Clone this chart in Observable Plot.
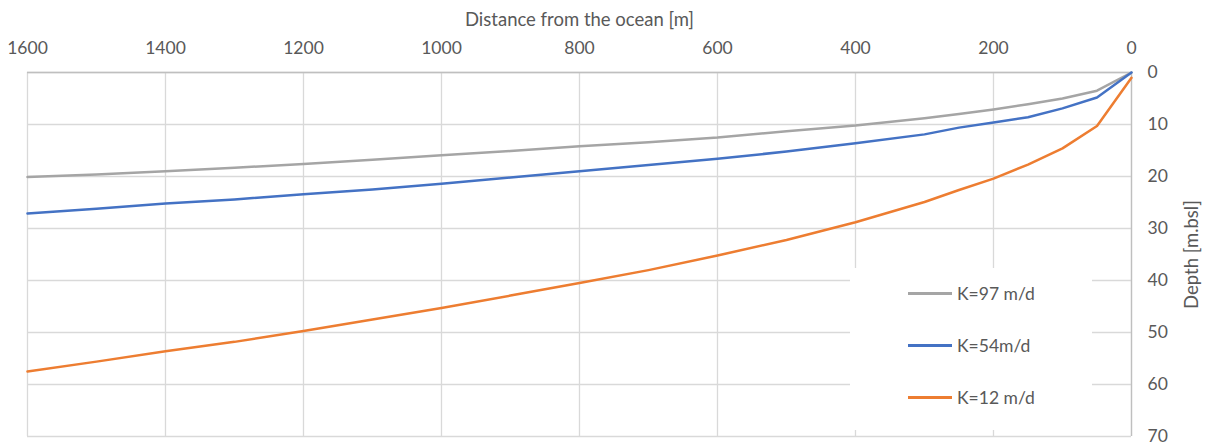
<!DOCTYPE html>
<html>
<head>
<meta charset="utf-8">
<script src="https://cdn.jsdelivr.net/npm/d3@7"></script>
<script src="https://cdn.jsdelivr.net/npm/@observablehq/plot@0.6"></script>
<style>
  html, body { margin: 0; padding: 0; background: #fff; }
  #wrap { position: relative; width: 1210px; height: 446px; font-family: Lato, "Open Sans", sans-serif; }
  #wrap svg g[aria-label="x-axis label"] text, #wrap svg g[aria-label="y-axis label"] text { font-size: 18.5px; }
  #legend { position: absolute; left: 850px; top: 268px; width: 242px; height: 162px; background: #fff; }
  .item { position: absolute; left: 58px; display: flex; align-items: center; font-size: 17.5px; color: #595959; }
  .item .sw { width: 44px; height: 3px; margin-right: 5px; }
</style>
</head>
<body>
<div id="wrap"></div>
<script>
// Distance from the ocean [m]
const distance = [0, 50, 100, 150, 200, 250, 300, 400, 500, 600, 700, 800, 900, 1000, 1100, 1200, 1300, 1400, 1500, 1600];
// Depth [m.bsl] per series
const k97 = [0, 3.5, 5.0, 6.1, 7.1, 8.0, 8.8, 10.2, 11.3, 12.5, 13.4, 14.2, 15.1, 15.9, 16.8, 17.6, 18.3, 19.0, 19.6, 20.1];
const k54 = [0, 4.8, 6.9, 8.6, 9.6, 10.6, 11.9, 13.6, 15.2, 16.6, 17.8, 19.0, 20.2, 21.4, 22.5, 23.4, 24.4, 25.2, 26.2, 27.1];
const k12 = [1.0, 10.3, 14.6, 17.7, 20.4, 22.6, 24.9, 28.8, 32.2, 35.2, 38.0, 40.5, 42.9, 45.3, 47.5, 49.7, 51.8, 53.6, 55.6, 57.5];
const seriesNames = ["K=97 m/d", "K=54m/d", "K=12 m/d"];
const seriesValues = [k97, k54, k12];
const seriesColors = ["#A5A5A5", "#4472C4", "#ED7D31"];
const xTicks = [0, 200, 400, 600, 800, 1000, 1200, 1400, 1600];
const yTicks = [0, 10, 20, 30, 40, 50, 60, 70];

const rows = [];
seriesNames.forEach((name, i) => {
  distance.forEach((d, j) => rows.push({series: name, distance: d, depth: seriesValues[i][j]}));
});

const chart = Plot.plot({
  width: 1210,
  height: 446,
  marginLeft: 27,
  marginRight: 79,
  marginTop: 72,
  marginBottom: 10,
  style: {fontFamily: "Lato, 'Open Sans', sans-serif", fontSize: "17px", color: "#595959", background: "#fff"},
  x: {domain: [0, 1600], reverse: true},
  y: {domain: [0, 70], reverse: true},
  color: {domain: seriesNames, range: seriesColors},
  marks: [
    Plot.gridX(xTicks, {stroke: "#D9D9D9", strokeOpacity: 1, strokeWidth: 1.3}),
    Plot.gridY(yTicks, {stroke: "#D9D9D9", strokeOpacity: 1, strokeWidth: 1.3}),
    Plot.ruleY([0], {stroke: "#BFBFBF", strokeWidth: 1.3}),
    Plot.ruleX([0], {stroke: "#BFBFBF", strokeWidth: 1.3}),
    Plot.axisX({anchor: "top", ticks: xTicks, tickSize: 0, tickPadding: 19, fontSize: 17.5, tickFormat: d => String(d),
      label: "Distance from the ocean [m]", labelAnchor: "center", labelArrow: "none", labelOffset: 60}),
    Plot.axisY({anchor: "right", ticks: yTicks, tickSize: 0, tickPadding: 16, fontSize: 17.5, tickFormat: d => String(d),
      label: "Depth [m.bsl]", labelAnchor: "center", labelArrow: "none", labelOffset: 66}),
    Plot.line(rows, {x: "distance", y: "depth", z: "series", stroke: "series", strokeWidth: 2.5, curve: "linear"})
  ]
});

const wrap = document.getElementById("wrap");
wrap.appendChild(chart);

const legend = document.createElement("div");
legend.id = "legend";
seriesNames.forEach((name, i) => {
  const it = document.createElement("div");
  it.className = "item";
  it.style.top = (15 + i * 52) + "px";
  const sw = document.createElement("span");
  sw.className = "sw";
  sw.style.background = seriesColors[i];
  const tx = document.createElement("span");
  tx.textContent = name;
  it.appendChild(sw);
  it.appendChild(tx);
  legend.appendChild(it);
});
wrap.appendChild(legend);
</script>
</body>
</html>
